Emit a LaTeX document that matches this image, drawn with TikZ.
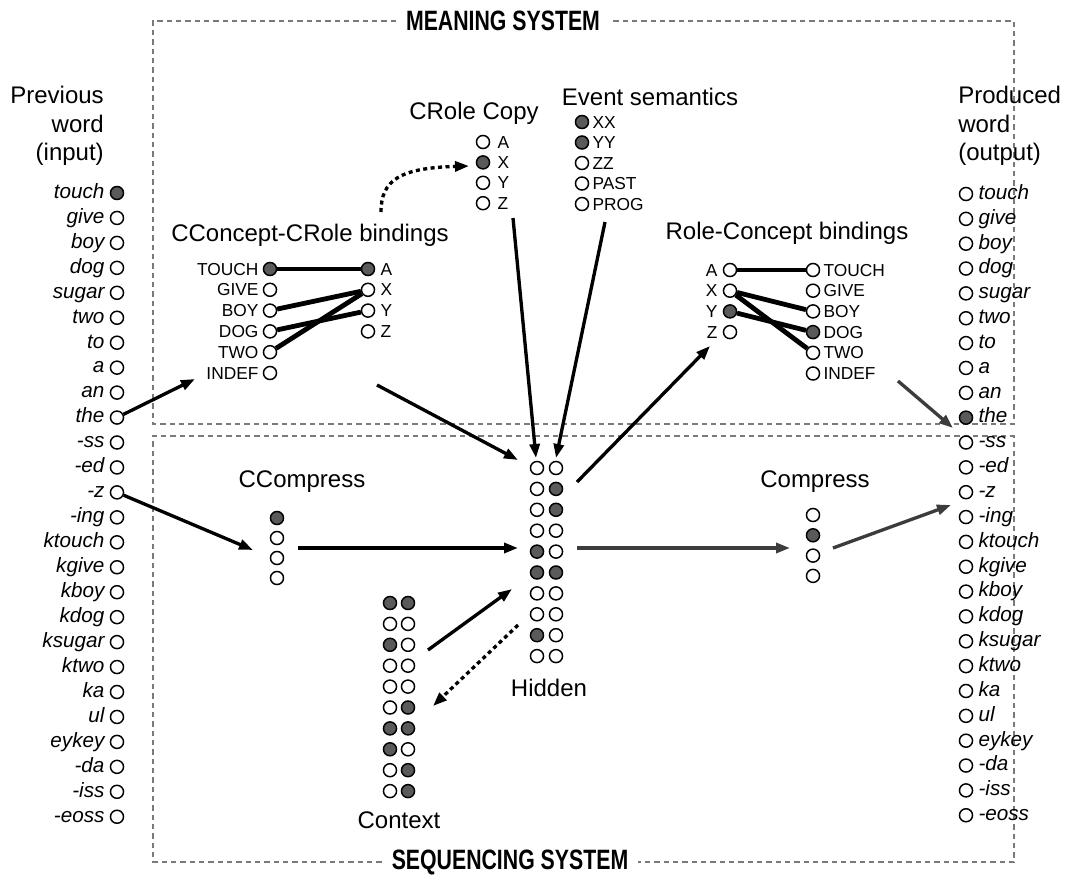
\documentclass[tikz,border=0pt]{standalone}
\usepackage{fontspec}
\setmainfont{Liberation Sans}
\usetikzlibrary{arrows.meta,calc}
\definecolor{fillg}{HTML}{5A5A5A}
\definecolor{boxg}{HTML}{7A7A7A}
\definecolor{arrg}{HTML}{3C3C3C}
\tikzset{
  uoff/.style={circle,draw=black,line width=1.1pt,minimum size=9.8pt,inner sep=0pt,fill=white},
  uon/.style={uoff,fill=fillg},
  heading/.style={font=\fontsize{18}{21.5}\selectfont,inner sep=0pt},
  wordlab/.style={font=\fontsize{15.5}{18}\selectfont\itshape,inner sep=0pt,text height=8pt,text depth=0pt},
  smalllab/.style={font=\fontsize{13}{15}\selectfont,inner sep=0pt,text height=9pt,text depth=0pt},
  arr/.style={line width=2.5pt,-{Triangle[length=10.5pt,width=7.5pt]}},
  garr/.style={arr,draw=arrg,fill=arrg},
  darr/.style={arr,dash pattern=on 3pt off 2.6pt},
  bind/.style={line width=3.6pt},
  sysbox/.style={draw=boxg,line width=0.9pt,dash pattern=on 4pt off 3pt},
  systitle/.style={font=\fontsize{21}{24}\selectfont\bfseries,xscale=0.76,inner sep=0pt}
}
\begin{document}
\begin{tikzpicture}[x=0.75pt,y=-0.75pt]
\useasboundingbox (0,0) rectangle (1071,885);

% ---------- system boxes ----------
\node[systitle] (mtitle) at (503,21) {MEANING SYSTEM};
\draw[sysbox] ($(mtitle.west)+(-10,0)$) -- (153,21) -- (153,424) -- (1014,424) -- (1014,21) -- ($(mtitle.east)+(10,0)$);
\node[systitle] (stitle) at (510,862) {SEQUENCING SYSTEM};
\draw[sysbox] ($(stitle.west)+(-10,0)$) -- (153,862) -- (153,436) -- (1014,436) -- (1014,862) -- ($(stitle.east)+(10,0)$);

% ---------- input column ----------
\node[heading,anchor=north east,align=right] (prevh) at (104,86) {Previous\\word\\(input)};
\foreach \w/\s [count=\i from 0] in {touch/uon,give/uoff,boy/uoff,dog/uoff,sugar/uoff,two/uoff,to/uoff,a/uoff,an/uoff,the/uoff,-ss/uoff,-ed/uoff,-z/uoff,-ing/uoff,ktouch/uoff,kgive/uoff,kboy/uoff,kdog/uoff,ksugar/uoff,ktwo/uoff,ka/uoff,ul/uoff,eykey/uoff,-da/uoff,-iss/uoff,-eoss/uoff}{
  \node[\s] (L\i) at (117,{193+24.95*\i}) {};
  \node[wordlab,anchor=east] (LW\i) at ($(L\i.west)+(-5,0)$) {\w};
}

% ---------- output column ----------
\node[heading,anchor=north west,align=left] (prodh) at (958,86) {Produced\\word\\(output)};
\foreach \w/\s [count=\i from 0] in {touch/uoff,give/uoff,boy/uoff,dog/uoff,sugar/uoff,two/uoff,to/uoff,a/uoff,an/uoff,the/uon,-ss/uoff,-ed/uoff,-z/uoff,-ing/uoff,ktouch/uoff,kgive/uoff,kboy/uoff,kdog/uoff,ksugar/uoff,ktwo/uoff,ka/uoff,ul/uoff,eykey/uoff,-da/uoff,-iss/uoff,-eoss/uoff}{
  \node[\s] (O\i) at (966,{194+24.85*\i}) {};
  \node[wordlab,anchor=west] (OW\i) at ($(O\i.east)+(5,0)$) {\w};
}

% ---------- CConcept-CRole bindings ----------
\node[heading] (cctitle) at (310,235) {CConcept-CRole bindings};
\foreach \w/\s [count=\i from 0] in {TOUCH/uon,GIVE/uoff,BOY/uoff,DOG/uoff,TWO/uoff,INDEF/uoff}{
  \node[\s] (CC\i) at (270,{269+20.8*\i}) {};
  \node[smalllab,anchor=east] (CCL\i) at ($(CC\i.west)+(-4,0)$) {\w};
}
\foreach \w/\s [count=\i from 0] in {A/uon,X/uoff,Y/uoff,Z/uoff}{
  \node[\s] (CR\i) at (368,{269+20.8*\i}) {};
  \node[smalllab,anchor=west] (CRL\i) at ($(CR\i.east)+(5,0)$) {\w};
}
\draw[bind] (CC0) -- (CR0);
\draw[bind] (CC2) -- (CR1);
\draw[bind] (CC3) -- (CR2);
\draw[bind] (CC4) -- (CR1);

% ---------- Role-Concept bindings ----------
\node[heading] (rctitle) at (787,233) {Role-Concept bindings};
\foreach \w/\s [count=\i from 0] in {A/uoff,X/uoff,Y/uon,Z/uoff}{
  \node[\s] (RQ\i) at (730,{270+20.7*\i}) {};
  \node[smalllab,anchor=east] (RQL\i) at ($(RQ\i.west)+(-5,0)$) {\w};
}
\foreach \w/\s [count=\i from 0] in {TOUCH/uoff,GIVE/uoff,BOY/uoff,DOG/uon,TWO/uoff,INDEF/uoff}{
  \node[\s] (RP\i) at (813,{270+20.7*\i}) {};
  \node[smalllab,anchor=west] (RPL\i) at ($(RP\i.east)+(3,0)$) {\w};
}
\draw[bind] (RQ0) -- (RP0);
\draw[bind] (RQ1) -- (RP2);
\draw[bind] (RQ1) -- (RP4);
\draw[bind] (RQ2) -- (RP3);

% ---------- CRole Copy ----------
\node[heading] (crtitle) at (474,113) {CRole Copy};
\foreach \w/\s [count=\i from 0] in {A/uoff,X/uon,Y/uoff,Z/uoff}{
  \node[\s] (K\i) at (483,{142+20.4*\i}) {};
  \node[smalllab,anchor=west] (KL\i) at ($(K\i.east)+(7,0)$) {\w};
}

% ---------- Event semantics ----------
\node[heading] (estitle) at (650,97) {Event semantics};
\foreach \w/\s [count=\i from 0] in {XX/uon,YY/uon,ZZ/uoff,PAST/uoff,PROG/uoff}{
  \node[\s] (E\i) at (582,{122+20.5*\i}) {};
  \node[smalllab,anchor=west] (EL\i) at ($(E\i.east)+(3,0)$) {\w};
}

% ---------- Hidden ----------
\foreach \a/\b [count=\i from 0] in {uoff/uoff,uoff/uon,uoff/uon,uoff/uoff,uon/uoff,uon/uon,uoff/uoff,uoff/uoff,uon/uoff,uoff/uoff}{
  \node[\a] (Ha\i) at (537,{468+20.9*\i}) {};
  \node[\b] (Hb\i) at (556,{468+20.9*\i}) {};
}
\node[heading] (hidlab) at (549,688) {Hidden};

% ---------- Context ----------
\foreach \a/\b [count=\i from 0] in {uon/uon,uoff/uoff,uon/uoff,uoff/uoff,uoff/uoff,uoff/uon,uon/uon,uon/uoff,uoff/uon,uoff/uon}{
  \node[\a] (Xa\i) at (390,{603+20.9*\i}) {};
  \node[\b] (Xb\i) at (408,{603+20.9*\i}) {};
}
\node[heading] (ctxlab) at (399,820) {Context};

% ---------- CCompress ----------
\node[heading] (ccmtitle) at (302,482) {CCompress};
\foreach \s [count=\i from 0] in {uon,uoff,uoff,uoff}{
  \node[\s] (CM\i) at (277,{518+20*\i}) {};
}

% ---------- Compress ----------
\node[heading] (cmtitle) at (815,482) {Compress};
\foreach \s [count=\i from 0] in {uoff,uon,uoff,uoff}{
  \node[\s] (PM\i) at (813,{515+20.3*\i}) {};
}

% ---------- connectors ----------
\coordinate (ccin) at (195,379);
\draw[arr] (L9) -- (ccin);
\coordinate (ccmpin) at (253,550);
\draw[arr] (L12) -- (ccmpin);
\coordinate (cmo) at (298,548);
\coordinate (hin1) at (518,548);
\draw[arr] (cmo) -- (hin1);
\coordinate (hout1) at (577,548);
\coordinate (cpin) at (790,548);
\draw[garr] (hout1) -- (cpin);
\coordinate (cpo) at (833,548);
\coordinate (outin2) at (951,505);
\draw[garr] (cpo) -- (outin2);
\coordinate (rco) at (898,381);
\coordinate (outin1) at (953,428);
\draw[garr] (rco) -- (outin1);
\coordinate (cco) at (377,385);
\coordinate (hin0) at (518,460);
\draw[arr] (cco) -- (hin0);
\coordinate (crco) at (513,218);
\coordinate (hin2) at (536,458);
\draw[arr] (crco) -- (hin2);
\coordinate (eso) at (605,222);
\coordinate (hin3) at (556,458);
\draw[arr] (eso) -- (hin3);
\coordinate (hout0) at (577,482);
\coordinate (rcin) at (710,346);
\draw[arr] (hout0) -- (rcin);
\coordinate (cxo) at (428,650);
\coordinate (hin4) at (512,589);
\draw[arr] (cxo) -- (hin4);
\coordinate (hout2) at (518,625);
\coordinate (cxin) at (433,706);
\draw[darr] (hout2) -- (cxin);
\coordinate (dcs) at (381,212);
\coordinate (crcin) at (469,166);
\draw[darr] (dcs) .. controls (381,180) and (400,168) .. (crcin);
\end{tikzpicture}
\end{document}
